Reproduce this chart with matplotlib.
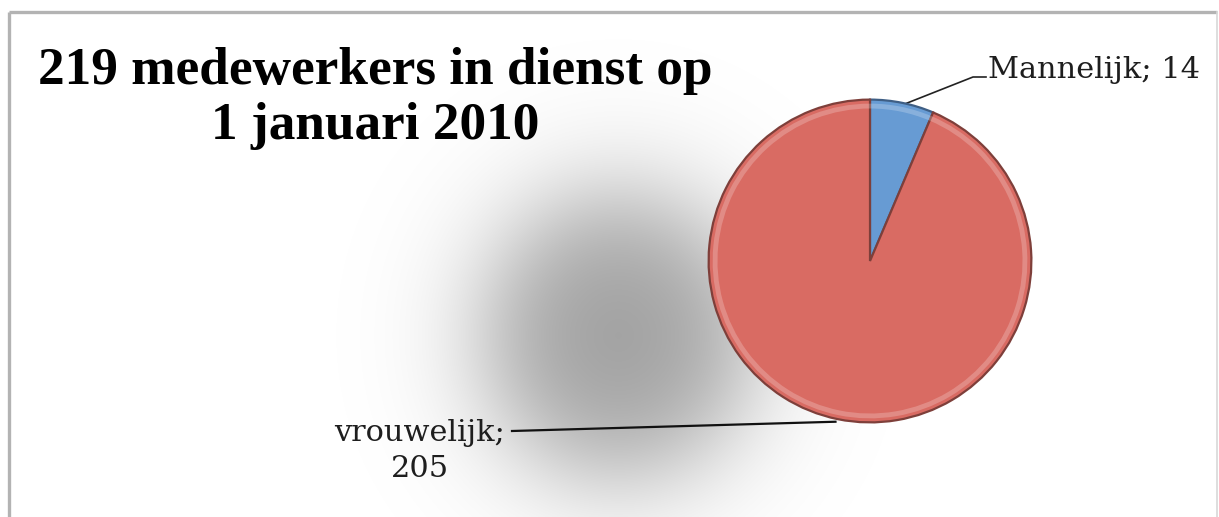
import numpy as np
import matplotlib
matplotlib.use("Agg")
import matplotlib.pyplot as plt

# ---- data ----
categories = ["Mannelijk", "vrouwelijk"]
values = [14, 205]
label_texts = ["Mannelijk; 14", "vrouwelijk;\n205"]
title_lines = ["219 medewerkers in dienst op", "1 januari 2010"]

colors = ["#679bd3", "#d96b63"]

W, H = 1219, 517
fig = plt.figure(figsize=(W / 100, H / 100), dpi=100)
fig.patch.set_facecolor("white")

# background axes in pixel coordinates (y downwards)
bg = fig.add_axes([0, 0, 1, 1])
bg.set_xlim(0, W)
bg.set_ylim(H, 0)
bg.axis("off")

# soft drop shadow behind pie
yy, xx = np.mgrid[0:H, 0:W]
sx, sy = 618, 335
r = np.sqrt((xx - sx) ** 2 + ((yy - sy) / 1.05) ** 2)
alpha = 0.37 / (1 + np.exp((r - 128) / 34))
rgba = np.zeros((H, W, 4))
rgba[..., :3] = 0.0
rgba[..., 3] = alpha
bg.imshow(rgba, extent=(0, W, H, 0), zorder=0, interpolation="bilinear")

# chart border
bc = "#b3b3b3"
bg.plot([9, 9], [12, H], color=bc, lw=2.4, zorder=1, solid_capstyle="butt")
bg.plot([9, 1217], [12, 12], color=bc, lw=2.4, zorder=1, solid_capstyle="butt")
bg.plot([1217, 1217], [12, H], color="#d8d8d8", lw=1.2, zorder=1)

# ---- pie ----
cx, cy, R = 870, 261, 163
pax = fig.add_axes([(cx - R) / W, (H - cy - R) / H, 2 * R / W, 2 * R / H])
wedges, _ = pax.pie(values, colors=colors, startangle=90, counterclock=False,
                    radius=1.0,
                    wedgeprops=dict(edgecolor="#7e3f3a", linewidth=1.6))
wedges[0].set_edgecolor("#3f5f85")
# bevel highlight ring
pax.pie(values, colors=["white", "white"], startangle=90, counterclock=False,
        radius=0.975,
        wedgeprops=dict(width=0.03, linewidth=0, alpha=0.22))
pax.set_xlim(-1.01, 1.01)
pax.set_ylim(-1.01, 1.01)
pax.set_aspect("equal")
pax.axis("off")


def edge_point(w, frac=1.0):
    th = np.deg2rad((w.theta1 + w.theta2) / 2)
    return cx + frac * R * np.cos(th), cy - frac * R * np.sin(th)


label_font = dict(family="DejaVu Serif", color="#1e1e1e")

# Mannelijk label (leader with elbow)
p0 = edge_point(wedges[0])
bg.plot([p0[0] + 4, 973, 986], [p0[1] + 2, 77, 77], color="#222222", lw=1.2, zorder=5)
t1 = bg.text(988, 78, label_texts[0], ha="left", va="baseline", fontsize=19,
             zorder=6, **label_font)

# vrouwelijk label
p1 = edge_point(wedges[1])
bg.plot([p1[0] - 2, 512], [p1[1] + 1, 431], color="#111111", lw=1.6, zorder=5)
t2 = bg.text(420, 477, label_texts[1], ha="center", va="baseline", fontsize=19,
             linespacing=1.35, zorder=6, **label_font)
t2.set_multialignment("center")

# title
title = bg.text(375, 84, title_lines[0], ha="center", va="baseline",
                fontsize=34, fontweight="bold", family="Liberation Serif",
                color="black", zorder=6)
title2 = bg.text(375, 139, title_lines[1], ha="center", va="baseline",
                 fontsize=34, fontweight="bold", family="Liberation Serif",
                 color="black", zorder=6)

# fit text widths to the reference layout
fig.canvas.draw()
rend = fig.canvas.get_renderer()


def fit(t, target):
    w = t.get_window_extent(rend).width
    t.set_fontsize(t.get_fontsize() * target / w)


fit(title, 675)
title2.set_fontsize(title.get_fontsize())
fit(t1, 212)
t2.set_fontsize(t1.get_fontsize())

fig.savefig("out.png", dpi=100, facecolor="white")
